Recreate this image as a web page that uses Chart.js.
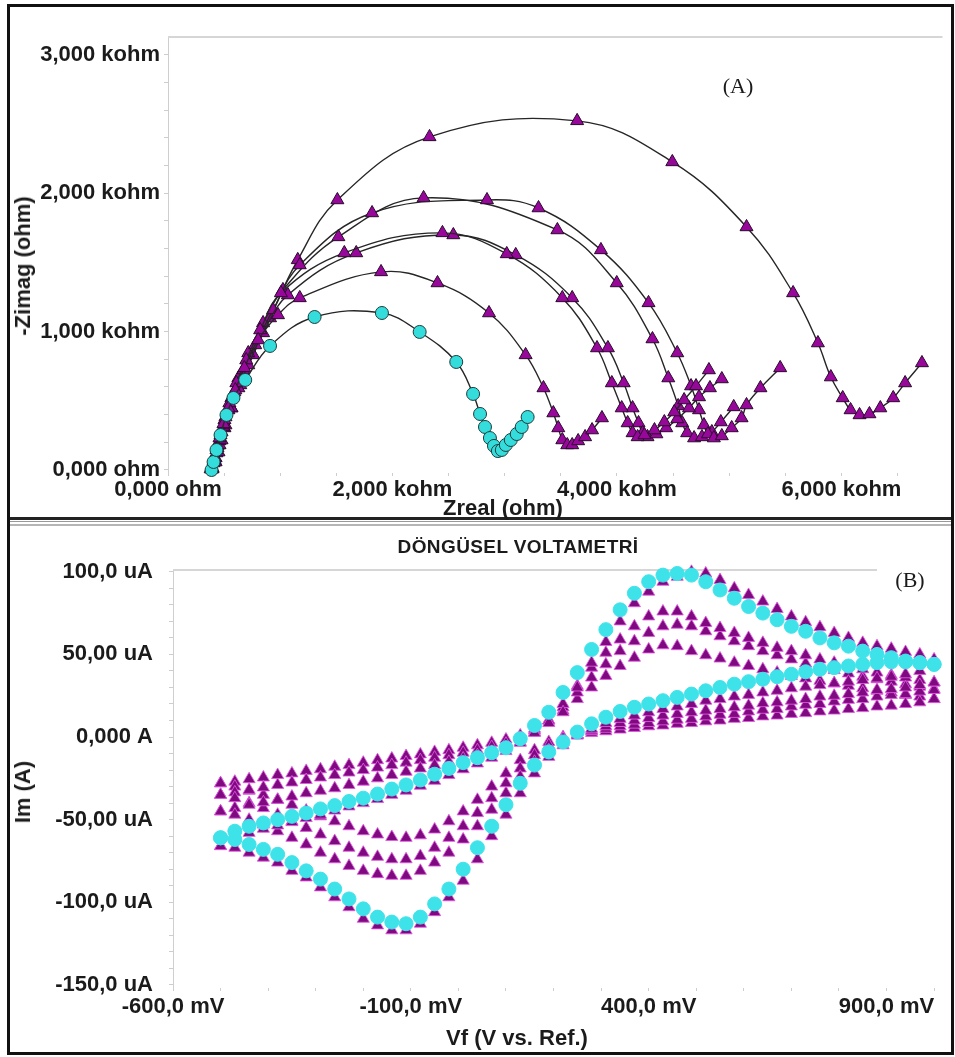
<!DOCTYPE html>
<html>
<head>
<meta charset="utf-8">
<script src="https://cdn.jsdelivr.net/npm/chart.js@4.4.1/dist/chart.umd.min.js"></script>
<style>
  html, body { margin: 0; padding: 0; background: #fff; }
  #page { position: relative; width: 955px; height: 1057px; overflow: hidden; }
  #frame { position: absolute; left: 7px; top: 4px; width: 941px; height: 1045px; border: 3px solid #111; }
  .rule { position: absolute; left: 10px; width: 941px; }
  canvas { position: absolute; }
  #nyq { left: 11px; top: 8px; }
  #cv { left: 11px; top: 527px; }
  .lbl { position: absolute; transform: translate(-50%, -50%); white-space: nowrap; line-height: 1;
         font-family: "Liberation Sans", Arial, sans-serif; font-weight: bold; font-size: 22px; color: #1b1b1b; }
  .rot { transform: translate(-50%, -50%) rotate(-90deg); }
  .serif { font-family: "Liberation Serif", "Times New Roman", serif; font-weight: normal; font-size: 22px; }
  .title { font-size: 19px; letter-spacing: 0.4px; }
</style>
</head>
<body>
<div id="page">
  <div id="frame"></div>
  <div class="rule" style="top:517px;height:3px;background:#222"></div>
  <div class="rule" style="top:521px;height:1px;background:#999"></div>
  <div class="rule" style="top:524px;height:2px;background:#b5b5b5"></div>

  <canvas id="nyq" width="940" height="509"></canvas>
  <canvas id="cv" width="940" height="525"></canvas>

  <div class="lbl serif" style="left:738px;top:86px">(A)</div>
  <div class="lbl rot" style="left:23px;top:266px">-Zimag (ohm)</div>
  <div class="lbl" style="left:503px;top:508px">Zreal (ohm)</div>

  <div class="lbl title" style="left:518px;top:546px">DÖNGÜSEL VOLTAMETRİ</div>
  <div class="lbl serif" style="left:910px;top:580px">(B)</div>
  <div class="lbl rot" style="left:23px;top:792px">Im (A)</div>
  <div class="lbl" style="left:517px;top:1038px">Vf (V vs. Ref.)</div>
</div>

<script>
// --- (A) Nyquist: Zreal / -Zimag in kohm ---
const nyqCyanX = [388, 406, 432, 468, 521, 583, 688, 909, 1306, 1906, 2242, 2568, 2718, 2780, 2824, 2868, 2904, 2939, 2974, 3010, 3054, 3107, 3151, 3204];
const nyqCyanY = [0, 58, 145, 253, 398, 521, 651, 897, 1106, 1135, 998, 781, 550, 405, 311, 231, 174, 137, 145, 181, 217, 260, 311, 383];

const nyqAX = [388, 406, 432, 459, 494, 538, 600, 680, 803, 980, 1174, 1898, 2401, 2860, 3186, 3345, 3433, 3477, 3513, 3557, 3601, 3654, 3716, 3778, 3866];
const nyqAY = [7, 65, 145, 231, 333, 448, 578, 738, 940, 1121, 1244, 1432, 1352, 1135, 832, 593, 412, 304, 217, 181, 181, 210, 239, 289, 376];

const nyqBX = [388, 415, 441, 468, 503, 547, 609, 697, 821, 1006, 1571, 2445, 3018, 3513, 3822, 3954, 4042, 4095, 4139, 4184, 4245, 4334, 4422, 4510, 4598, 4704, 4819];
const nyqBY = [14, 72, 159, 253, 362, 484, 629, 795, 1012, 1280, 1569, 1714, 1562, 1244, 882, 629, 448, 340, 268, 239, 253, 289, 347, 419, 506, 607, 723];

const nyqCX = [397, 424, 450, 477, 512, 565, 627, 715, 847, 1068, 1677, 2542, 3098, 3601, 3919, 4060, 4139, 4192, 4228, 4272, 4351, 4439, 4537, 4642, 4731, 4828, 4934];
const nyqCY = [7, 58, 130, 217, 325, 448, 593, 759, 991, 1265, 1569, 1699, 1555, 1244, 882, 629, 448, 340, 268, 239, 260, 304, 369, 448, 528, 593, 658];

const nyqDX = [380, 406, 432, 459, 494, 538, 591, 671, 777, 936, 1174, 1818, 2842, 3301, 3857, 4281, 4537, 4660, 4731, 4775, 4810, 4863, 4934, 5022, 5110, 5154, 5278, 5454];
const nyqDY = [7, 51, 123, 210, 311, 434, 564, 723, 904, 1157, 1482, 1858, 1952, 1894, 1591, 1208, 846, 607, 434, 325, 260, 231, 246, 304, 376, 470, 593, 738];

const nyqEX = [388, 415, 441, 477, 512, 565, 627, 715, 847, 1024, 1518, 2277, 3469, 3998, 4316, 4457, 4545, 4581, 4625, 4687, 4757, 4845, 4925, 5040];
const nyqEY = [22, 87, 174, 275, 383, 521, 665, 846, 1063, 1302, 1685, 1967, 1735, 1352, 947, 665, 463, 340, 268, 231, 239, 275, 347, 456];

const nyqFX = [397, 424, 459, 503, 565, 644, 759, 909, 1156, 1509, 2330, 3645, 4493, 5154, 5569, 5790, 5905, 6011, 6081, 6161, 6249, 6346, 6461, 6567, 6717];
const nyqFY = [14, 87, 181, 304, 448, 615, 832, 1099, 1519, 1952, 2408, 2524, 2227, 1757, 1280, 918, 672, 521, 434, 398, 405, 448, 521, 629, 774];

const nyqXTicks = [0, 2000, 4000, 6000];
const nyqXLabels = ['0,000 ohm', '2,000 kohm', '4,000 kohm', '6,000 kohm'];
const nyqYTicks = [0, 1000, 2000, 3000];
const nyqYLabels = ['0,000 ohm', '1,000 kohm', '2,000 kohm', '3,000 kohm'];

// --- (B) cyclic voltammetry: potential in mV, current in uA ---
const cvE = [-500, -470, -440, -410, -380, -350, -320, -290, -260, -230, -200, -170, -140, -110, -80, -50, -20, 10, 40, 70,
  100, 130, 160, 190, 220, 250, 280, 310, 340, 370, 400, 430, 460, 490, 520, 550, 580, 610, 640, 670,
  700, 730, 760, 790, 820, 850, 880, 910, 940, 970, 1000];

const cvCyanFwd = [-61, -57, -54, -52, -50, -48, -46, -43.5, -41.5, -39, -37, -34.5, -31.5, -29, -26, -22.5, -19, -15.5, -12.5, -9.5,
  -6.5, -1, 7, 15, 27, 39, 53, 65, 77, 87, 94, 98, 99, 98, 94, 89, 84, 79, 75, 71,
  67, 64, 60, 57, 55, 52, 50, 48, 46, 45, 44];
const cvCyanRev = [-61, -62, -65, -68, -71, -76, -81, -86, -92, -98, -104, -109, -112, -113, -109, -101, -92, -80, -67, -54,
  -41, -28, -17, -9, -3, 3, 8, 12, 15.5, 18, 20, 22, 24, 26, 28, 30, 32, 33.5, 35, 36.5,
  38, 39.5, 41, 42, 43, 44, 45, 45.5, 45.5, 45, 44];

const cvP1Fwd = [-66, -61, -58, -55.5, -53.5, -51.5, -49, -47, -44.5, -42, -40, -37.5, -35, -32.5, -29.5, -26.5, -23, -19.5, -16, -12.5,
  -8.5, -3.5, 2.5, 8.5, 15, 30, 45, 57.5, 70, 81, 88, 94, 97, 100, 99, 95, 90, 86, 82, 77.5,
  73, 69.5, 66.5, 63, 60, 57, 55, 53.5, 51.5, 50, 47];
const cvP1Rev = [-66, -67, -70, -73, -76, -81, -85, -91, -97, -103, -110, -114, -117, -117, -113, -106, -97, -87, -74, -60,
  -47, -34, -22, -12, -5, 1, 5, 8.5, 11, 13, 15, 17, 18.5, 20, 22, 23, 24.5, 25.5, 27, 28,
  29.5, 30.5, 31.5, 32.5, 33.5, 34.5, 35.5, 36.5, 38, 40, 44];

const cvP2Fwd = [-45, -43, -41, -39.5, -38, -36, -34, -32.5, -31, -29, -27, -25, -23, -21, -19, -17, -15, -13, -11, -9,
  -6.5, -3, 3, 10, 20, 31, 42, 51, 59, 67, 73, 76, 76, 73, 69, 66, 63, 60, 57, 54,
  52, 49.5, 47, 45, 43, 41, 39, 37.5, 36, 34.5, 33];
const cvP2Rev = [-45, -47, -50, -53, -57, -61, -65, -70, -74, -78, -81, -83, -84, -84, -81, -76, -70, -62, -54, -44,
  -34, -24, -15, -8, -3, 1, 4, 6.5, 8.5, 10, 11.5, 13, 14, 15, 16, 17, 18, 19, 20.5, 21,
  22, 23, 24.5, 25, 26, 27, 28.5, 29, 30, 31.5, 33];

const cvP3Fwd = [-35, -33.5, -32, -30.5, -29, -27.5, -26, -24.5, -23, -21.5, -20, -18.5, -17, -15.5, -14, -12.5, -11, -9.5, -8, -6,
  -4, -1, 4, 10, 18, 27, 36, 44, 52, 58, 63, 67, 68, 67, 64, 61, 58, 55, 52, 49.5,
  47, 44.5, 42.5, 40.5, 38.5, 36.5, 35, 33.5, 32, 30.5, 29];
const cvP3Rev = [-35, -37, -40, -43, -47, -51, -55, -59, -63, -67, -70, -72.5, -74, -74, -72, -67, -61, -54, -46, -37,
  -28, -19, -11, -5, -1, 1.5, 3.5, 5, 6.5, 7.5, 8.5, 9.5, 10.5, 11, 12.5, 13.5, 14, 15.5, 16.5, 17,
  18.5, 19.5, 20, 21.5, 22.5, 23, 24.5, 25.5, 26, 27.5, 28.5];

const cvP4Fwd = [-28, -27, -25.5, -24.5, -23, -22, -20.5, -19.5, -18, -17, -15.5, -14, -13, -11.5, -10.5, -9, -8, -6.5, -5, -3.5,
  -1.5, 1, 5, 10, 16, 23, 30, 37, 43, 48, 53, 55.5, 55, 52, 49.5, 47.5, 45, 43, 41, 39,
  37, 35.5, 34, 32.5, 31, 29.5, 28, 27, 25.5, 24.5, 23];
const cvP4Rev = [-28, -30, -32.5, -35, -38, -41, -44.5, -48, -51, -54, -57, -59, -60.5, -61, -59.5, -56, -51, -45, -38, -30,
  -22, -14, -8, -3, 0, 1.5, 2.5, 3.5, 4.5, 5.5, 6.5, 7, 8, 8.5, 9.5, 10, 11, 11.5, 12.5, 13,
  14, 14.5, 15.5, 16, 17, 17.5, 18.5, 19, 20, 21, 23];

const cvXTicks = [-600, -100, 400, 900];
const cvXLabels = ['-600,0 mV', '-100,0 mV', '400,0 mV', '900,0 mV'];
const cvYTicks = [100, 50, 0, -50, -100, -150];
const cvYLabels = ['100,0 uA', '50,00 uA', '0,000 A', '-50,00 uA', '-100,0 uA', '-150,0 uA'];

const PURPLE_A = '#96079a';
const PURPLE_B = '#7f0a80';
const CYAN = '#3ee3ea';
const TICK_FONT = { family: '"Liberation Sans", Arial, sans-serif', size: 22, weight: 'bold' };

function pairs(xs, ys) {
    return xs.map((x, i) => ({ x: x, y: ys[i] }));
}

// minor tick positions between first and last (axis marks, not data)
function steps(first, last, step) {
    const out = [];
    for (let v = first; v <= last + 1e-9; v += step) out.push({ value: v });
    return out;
}

function labelFor(vals, labels) {
    return (value) => {
        const i = vals.findIndex(v => Math.abs(v - value) < 1e-6);
        return i >= 0 ? labels[i] : '';
    };
}

// light line along the top of the plot area
const plotTopLine = {
    id: 'plotTopLine',
    beforeDatasetsDraw(chart, args, opts) {
        const { ctx, chartArea } = chart;
        const len = opts.length || chartArea.right - chartArea.left;
        ctx.save();
        ctx.strokeStyle = '#d6d6d6';
        ctx.lineWidth = 2;
        ctx.beginPath();
        ctx.moveTo(chartArea.left, chartArea.top);
        ctx.lineTo(chartArea.left + len, chartArea.top);
        ctx.stroke();
        ctx.restore();
    }
};

function axis(opts) {
    return {
        type: 'linear',
        min: opts.min,
        max: opts.max,
        afterFit: opts.fit,
        afterBuildTicks: s => { s.ticks = opts.marks; },
        border: { display: opts.line, color: '#cfcfcf', width: 1 },
        grid: { display: true, drawOnChartArea: false, drawTicks: true, tickLength: opts.tickLength, color: '#cdcdcd' },
        ticks: {
            autoSkip: false,
            minRotation: 0,
            maxRotation: 0,
            padding: opts.padding,
            color: '#1b1b1b',
            font: TICK_FONT,
            callback: opts.callback
        }
    };
}

function nyqSet(xs, ys, isCircle) {
    return {
        data: pairs(xs, ys),
        showLine: true,
        tension: 0.4,
        borderColor: '#262626',
        borderWidth: 1.4,
        pointStyle: isCircle ? 'circle' : 'triangle',
        pointRadius: isCircle ? 6.5 : 7.5,
        pointBackgroundColor: isCircle ? '#35dcdc' : PURPLE_A,
        pointBorderColor: isCircle ? '#1d3d3d' : '#2a0a2c',
        pointBorderWidth: 1,
        clip: false
    };
}

function cvSet(fwd, rev, isCircle) {
    return {
        data: pairs(cvE, fwd).concat(pairs(cvE, rev)),
        showLine: false,
        pointStyle: isCircle ? 'circle' : 'triangle',
        pointRadius: isCircle ? 7 : 7,
        pointBackgroundColor: isCircle ? CYAN : PURPLE_B,
        pointBorderColor: isCircle ? CYAN : 'rgba(226, 90, 226, 0.85)',
        pointBorderWidth: 1,
        clip: false
    };
}

const common = {
    responsive: false,
    animation: false,
    devicePixelRatio: 1,
    events: []
};

new Chart(document.getElementById('nyq'), {
    type: 'scatter',
    data: {
        datasets: [
            nyqSet(nyqCyanX, nyqCyanY, true),
            nyqSet(nyqAX, nyqAY),
            nyqSet(nyqBX, nyqBY),
            nyqSet(nyqCX, nyqCY),
            nyqSet(nyqDX, nyqDY),
            nyqSet(nyqEX, nyqEY),
            nyqSet(nyqFX, nyqFY)
        ]
    },
    options: Object.assign({}, common, {
        layout: { padding: { top: 29, right: 1, bottom: 0, left: 0 } },
        scales: {
            x: axis({ min: 0, max: 6900, marks: steps(0, 6500, 500), tickLength: 3, padding: 1, line: false,
                      fit: s => { s.height = 44; }, callback: labelFor(nyqXTicks, nyqXLabels) }),
            y: axis({ min: -21.7, max: 3130, marks: steps(0, 3000, 200), tickLength: 4, padding: 4, line: true,
                      fit: s => { s.width = 157; }, callback: labelFor(nyqYTicks, nyqYLabels) })
        },
        plugins: { legend: { display: false }, tooltip: { enabled: false }, plotTopLine: {} }
    }),
    plugins: [plotTopLine]
});

new Chart(document.getElementById('cv'), {
    type: 'scatter',
    data: {
        datasets: [
            cvSet(cvCyanFwd, cvCyanRev, true),
            cvSet(cvP1Fwd, cvP1Rev),
            cvSet(cvP2Fwd, cvP2Rev),
            cvSet(cvP3Fwd, cvP3Rev),
            cvSet(cvP4Fwd, cvP4Rev)
        ]
    },
    options: Object.assign({}, common, {
        layout: { padding: { top: 43, right: 1, bottom: 0, left: 0 } },
        scales: {
            x: axis({ min: -600, max: 1018.75, marks: steps(-600, 1000, 100), tickLength: 3, padding: 3, line: false,
                      fit: s => { s.height = 64; }, callback: labelFor(cvXTicks, cvXLabels) }),
            y: axis({ min: -151.9, max: 101.1, marks: steps(-150, 100, 10), tickLength: 4, padding: 16, line: true,
                      fit: s => { s.width = 162; }, callback: labelFor(cvYTicks, cvYLabels) })
        },
        plugins: { legend: { display: false }, tooltip: { enabled: false }, plotTopLine: { length: 704 } }
    }),
    plugins: [plotTopLine]
});
</script>
</body>
</html>
